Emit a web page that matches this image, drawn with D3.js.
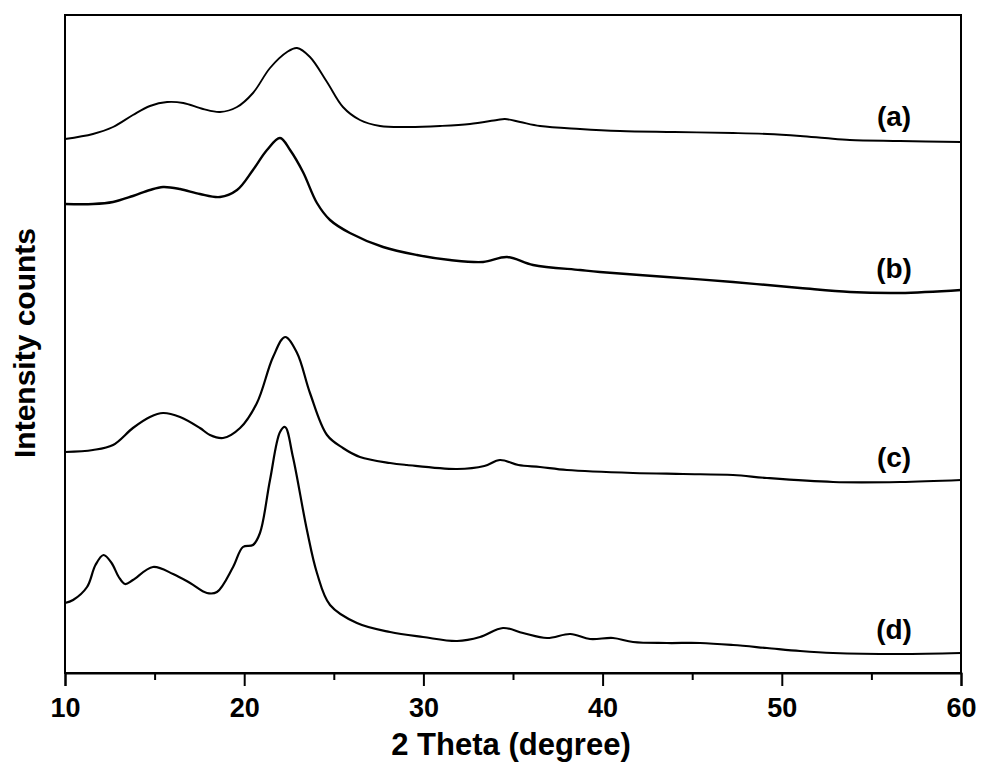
<!DOCTYPE html>
<html>
<head>
<meta charset="utf-8">
<script src="https://cdn.jsdelivr.net/npm/d3@7"></script>
<style>
  body { margin: 0; background: #fff; }
  svg { display: block; overflow: visible; }
  text { font-family: Arial, "Liberation Sans", sans-serif; font-weight: bold; fill: #000; }
</style>
</head>
<body>
<svg width="981" height="763"></svg>
<script>
// 2 theta (degree) and intensity (arbitrary counts)
const thetaA = [10, 11.56, 12.68, 13.79, 14.74, 15.7, 16.6, 17.7, 18.65, 19.6, 20.49, 21.44, 22.39, 22.95, 23.67, 24.62, 25.51, 26.46, 27.58, 29.2, 30.93, 32.6, 34.11, 34.55, 35.4, 36.51, 38.74, 40.97, 44.0, 47.28, 49.2, 51.02, 52.4, 53.8, 56.6, 60];
const countsA = [534, 539, 546, 558, 567, 571, 570, 564, 561, 566, 580, 605, 621, 625, 616, 591, 566, 553, 547, 546, 547, 549, 553, 554, 551, 547, 544, 542, 541, 540, 539, 537, 535, 533, 532, 531];

const thetaB = [10, 11.56, 12.68, 13.79, 14.74, 15.47, 16.42, 17.53, 18.65, 19.6, 20.49, 21.27, 22.0, 22.56, 23.28, 24.06, 24.79, 25.9, 27.75, 29.64, 31.48, 33.33, 34.67, 36.12, 38.74, 39.85, 43.59, 47.28, 51.02, 53.81, 56.6, 60];
const countsB = [469, 469, 471, 477, 483, 486, 484, 479, 476, 483, 503, 523, 535, 523, 501, 470, 453, 440, 426, 418, 413, 411, 416, 408, 403, 401, 396, 391, 385, 381, 380, 383];

const thetaC = [10, 11.56, 12.68, 13.79, 14.74, 15.47, 16.42, 17.53, 18.09, 18.82, 19.77, 20.71, 21.61, 22.28, 22.95, 23.67, 24.62, 25.51, 26.46, 28.14, 29.08, 31.88, 33.4, 34.27, 35.3, 36.51, 38.01, 41.7, 44.5, 47.28, 49.17, 52.86, 56.6, 60];
const countsC = [221, 223, 228, 245, 256, 260, 256, 245, 238, 235, 245, 270, 316, 336, 320, 280, 238, 225, 216, 210, 208, 204, 207, 213, 208, 206, 203, 200, 199, 198, 195, 191, 191, 193];

const thetaD = [10, 10.45, 11.23, 11.7, 12.15, 12.6, 13.0, 13.35, 13.79, 14.91, 16.03, 16.98, 17.92, 18.48, 19.38, 19.93, 20.49, 20.88, 21.44, 22.0, 22.28, 22.72, 23.5, 24.06, 24.79, 26.29, 28.14, 29.98, 31.88, 33.16, 34.44, 35.56, 36.9, 38.2, 39.3, 40.58, 41.7, 43.59, 45.44, 47.28, 49.17, 51.02, 52.86, 56.6, 60];
const countsD = [70, 73, 86, 108, 118, 110, 96, 89, 93, 106, 99, 90, 80, 81, 106, 126, 128, 140, 193, 241, 246, 216, 143, 100, 68, 50, 41, 36, 32, 36, 45, 40, 35, 39, 34, 35, 31, 30, 30, 28, 25, 22, 20, 19, 20];

const seriesNames = ['(a)', '(b)', '(c)', '(d)'];
const xTicks = [10, 20, 30, 40, 50, 60];
const xMinorTicks = [15, 25, 35, 45, 55];

const svg = d3.select('svg');
const width = Number(svg.attr('width')), height = Number(svg.attr('height'));
const margin = { left: 65, right: 20, top: 15, bottom: 90 };
const innerWidth = width - margin.left - margin.right;
const innerHeight = height - margin.top - margin.bottom;

const series = [
    { name: seriesNames[0], x: thetaA, y: countsA, w: 1.9 },
    { name: seriesNames[1], x: thetaB, y: countsB, w: 2.4 },
    { name: seriesNames[2], x: thetaC, y: countsC, w: 2.2 },
    { name: seriesNames[3], x: thetaD, y: countsD, w: 2.2 }
].map(s => ({ ...s, points: s.x.map((t, i) => ({ t, c: s.y[i] })) }));

const xScale = d3.scaleLinear().domain([10, 60]).range([0, innerWidth]);
const yScale = d3.scaleLinear().domain([0, 658]).range([innerHeight, 0]);

const g = svg.append('g').attr('transform', `translate(${margin.left},${margin.top})`);

const line = d3.line()
    .x(d => xScale(d.t))
    .y(d => yScale(d.c))
    .curve(d3.curveCatmullRom.alpha(0.5));

g.selectAll('path.trace').data(series)
    .enter().append('path')
        .attr('class', 'trace')
        .attr('d', d => line(d.points))
        .attr('fill', 'none')
        .attr('stroke', '#000')
        .attr('stroke-width', d => d.w)
        .attr('stroke-linejoin', 'round');

// frame
g.append('rect')
    .attr('width', innerWidth).attr('height', innerHeight)
    .attr('fill', 'none').attr('stroke', '#000').attr('stroke-width', 2);

// labels sit just above each trace near the right edge
const labelAt = 56.6;
g.selectAll('text.lab').data(series)
    .enter().append('text')
        .attr('class', 'lab')
        .attr('x', xScale(labelAt) - 6)
        .attr('y', d => yScale(d.y[d.x.indexOf(labelAt)]) - 15)
        .attr('text-anchor', 'middle')
        .style('font-size', '28px')
        .text(d => d.name);

const xAxis = g.append('g')
    .attr('transform', `translate(0,${innerHeight})`)
    .call(d3.axisBottom(xScale).tickValues(xTicks).tickSize(13).tickPadding(12).tickFormat(d3.format('d')));
xAxis.attr('font-family', null).attr('font-size', null);
xAxis.select('.domain').attr('stroke-width', 2);
xAxis.selectAll('.tick line').attr('stroke-width', 2);
xAxis.selectAll('.tick text').attr('fill', null).style('font-size', '27px');

const xMinor = g.append('g')
    .attr('transform', `translate(0,${innerHeight})`)
    .call(d3.axisBottom(xScale).tickValues(xMinorTicks).tickSize(7).tickFormat(''));
xMinor.select('.domain').remove();
xMinor.selectAll('.tick text').remove();
xMinor.selectAll('.tick line').attr('stroke-width', 2);

g.append('text')
    .attr('x', innerWidth / 2 - 2)
    .attr('y', innerHeight + 82)
    .attr('text-anchor', 'middle')
    .style('font-size', '31px')
    .text('2 Theta (degree)');

svg.append('text')
    .attr('transform', 'translate(35,343) rotate(-90)')
    .attr('text-anchor', 'middle')
    .style('font-size', '30px')
    .text('Intensity counts');
</script>
</body>
</html>
